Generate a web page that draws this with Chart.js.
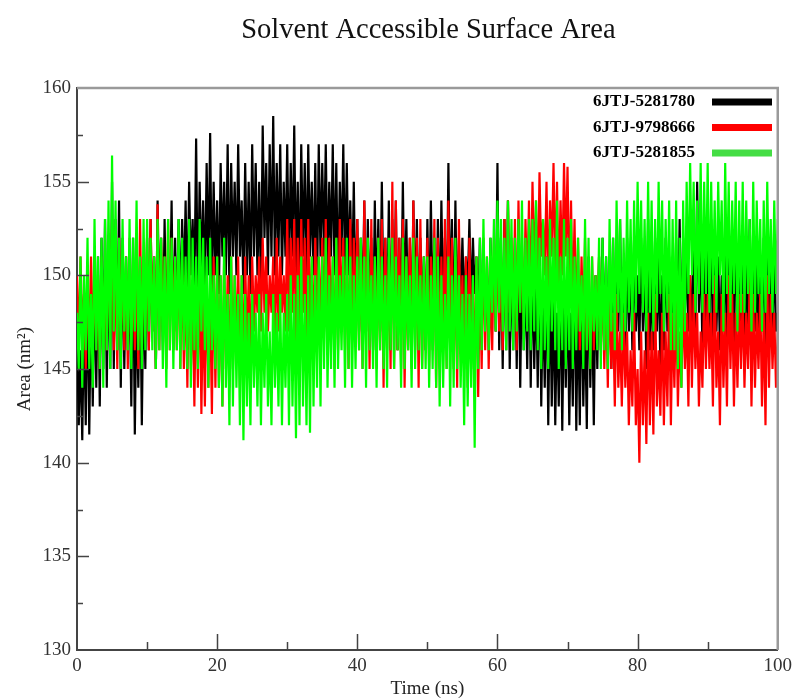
<!DOCTYPE html>
<html>
<head>
<meta charset="utf-8">
<title>Solvent Accessible Surface Area</title>
<script src="https://cdn.jsdelivr.net/npm/chart.js@4.4.1/dist/chart.umd.min.js"></script>
<style>
  html, body { margin: 0; padding: 0; background: #fff; }
  canvas { display: block; }
</style>
</head>
<body>
<canvas id="sasaChart" width="797" height="700"></canvas>
<script>
// time between samples (ns)
const STEP_NS = 0.25;

const seriesNames = ["6JTJ-5281780", "6JTJ-9798666", "6JTJ-5281855"];

// SASA values (nm^2), one every 0.25 ns from 0 to 100 ns (one row = 5 ns)
const sasa5281780 = [
  147, 142, 146, 141.2, 148, 142, 150, 141.5, 149, 143, 150, 144, 151, 143, 152, 145, 153, 144, 151, 145,
  155, 145, 153, 146, 154, 144, 152, 145, 151, 146, 150, 143, 152, 141.5, 149, 144, 151, 142, 150, 145,
  152, 146, 153, 147, 151, 145, 154, 148, 152, 146, 153, 147, 151, 148, 154, 146, 152, 147, 153, 148,
  153, 149, 154, 148, 155, 150, 153, 149, 157.3, 148, 155, 150, 154, 149, 156, 150, 157.6, 149, 155, 150,
  154, 149, 156, 151, 155, 150, 157, 149, 156, 151, 155, 150, 157, 151, 154, 149, 156, 150, 155, 149,
  157, 151, 156, 150, 155, 149, 158, 152, 156, 150, 157, 151, 158.5, 150, 156, 151, 157, 150, 155, 151,
  157, 150, 156, 151, 158, 150, 155, 149, 157, 151, 156, 150, 157, 151, 155, 150, 156, 149, 157, 151,
  156, 151, 157, 150, 155, 151, 157, 150, 156, 149, 155, 151, 157, 150, 156, 150, 154, 149, 155, 148,
  153, 147, 152, 148, 154, 147, 153, 148, 152, 146, 154, 148, 153, 147, 155, 148, 152, 147, 154, 146,
  153, 148, 154, 146, 152, 147, 155, 148, 153, 147, 152, 146, 154, 148, 153, 147, 152, 148, 151, 146,
  153, 147, 154, 148, 152, 146, 153, 147, 154, 148, 152, 147, 156, 148, 153, 146, 154, 147, 152, 148,
  152, 148, 151, 149, 153, 148, 152, 149, 151, 148, 152, 147, 151, 148, 150, 147, 152, 148, 151, 147,
  156, 146, 152, 145, 153, 146, 154, 145, 151, 146, 152, 145, 153, 144, 151, 146, 150, 145, 152, 144,
  151, 145, 150, 144, 152, 143, 149, 144, 151, 142, 150, 143, 149, 142, 148, 143, 150, 141.7, 149, 144,
  150, 142, 148, 143, 151, 141.7, 149, 142, 150, 143, 148, 141.8, 151, 144, 149, 142, 150, 145, 151, 146,
  152, 146, 151, 147, 150, 145, 152, 146, 151, 147, 153, 146, 150, 145, 152, 147, 151, 146, 152, 147,
  150, 146, 152, 147, 151, 145, 153, 146, 150, 146, 152, 147, 151, 145, 150, 146, 152, 147, 151, 146,
  151, 146, 152, 147, 153, 146, 152, 148, 151, 147, 150, 146, 153, 147, 155, 148, 152, 146, 151, 147,
  152, 147, 153, 146, 152, 147, 151, 146, 150, 147, 152, 146, 153, 147, 151, 146, 152, 148, 150, 147,
  152, 146, 151, 147, 153, 146, 152, 147, 151, 146, 150, 147, 152, 146, 153, 147, 151, 146, 152, 147,
  148
];

const sasa9798666 = [
  150, 146, 151, 147, 149, 145, 150, 146, 151, 147, 149, 146, 150, 145, 151, 147, 150, 146, 152, 147,
  153, 146, 151, 145, 152, 147, 150, 146, 151, 145, 152, 147, 150, 146, 151, 145, 153, 146, 151, 147,
  152, 146, 153, 147, 151, 145, 153.8, 146, 152, 147, 151, 145, 153, 146, 152, 147, 151, 146, 152, 145,
  151, 145, 150, 144, 151, 145, 149, 143, 150, 144, 151, 142.6, 149, 143, 150, 144, 149, 142.6, 151, 144,
  151, 144, 150, 143, 151, 145, 150, 144, 151, 145, 150, 146, 151, 144, 150, 145, 151, 146, 150, 145,
  151, 147, 150, 148, 151, 147, 152, 148, 151, 147, 150, 148, 151, 146, 152, 147, 151, 148, 150, 147,
  153, 147, 152, 148, 153, 146, 152, 147, 153, 148, 152, 146, 153, 147, 151, 146, 152, 148, 151, 147,
  152, 147, 153, 146, 152, 147, 151, 145, 152, 146, 153, 147, 152, 146, 151, 145, 153, 146, 152, 147,
  153, 146, 152, 145, 154, 147, 152, 145, 153, 146, 151, 145, 152, 146, 153, 144, 152, 146, 151, 145,
  155, 145, 154, 146, 152, 145, 153, 144, 151, 146, 152, 145, 154, 146, 152, 144, 153, 145, 151, 146,
  152, 145, 151, 146, 153, 144, 152, 145, 151, 146, 153, 145, 154, 146, 152, 145, 151, 144, 153, 146,
  150, 145, 151, 144, 152, 145, 150, 144, 151, 143.5, 150, 145, 152, 146, 151, 145, 150, 146, 152, 147,
  152, 147, 151, 146, 153, 147, 154, 148, 152, 147, 153, 146, 154, 148, 152, 147, 153, 149, 154, 148,
  155, 150, 154, 149, 155.5, 151, 153, 150, 155, 149, 154, 151, 156, 150, 155, 149, 154, 150, 156, 151,
  155.8, 149, 154, 148, 153, 147, 152, 146, 151, 147, 152, 146, 150, 145, 151, 146, 150, 147, 151, 146,
  150, 145, 149, 144, 150, 145, 148, 143, 149, 144, 147, 143, 148, 144, 147, 142, 146, 143, 148, 142,
  145, 140, 147, 142, 146, 141, 148, 142, 147, 141.5, 149, 143, 146, 142.5, 148, 142, 147, 143, 149, 142,
  148, 144, 149, 143, 147, 144, 149, 145, 148, 143, 150, 144, 149, 145, 148, 143, 147, 144, 149, 145,
  149, 145, 148, 143, 150, 144, 147, 142, 149, 144, 148, 143, 150, 145, 149, 143, 148, 144, 149, 145,
  149, 144, 148, 145, 150, 143, 149, 144, 148, 145, 149, 143, 148, 142, 150, 144, 149, 145, 148, 144,
  147
];

const sasa5281855 = [
  148, 145, 151, 144, 150, 146, 152, 145, 149, 144, 153, 146, 151, 145, 152, 144, 153, 146, 154, 145,
  156.4, 147, 154, 146, 152, 145, 153, 147, 151, 146, 153, 145, 152, 147, 154, 146, 151, 145, 153, 146,
  153, 147, 152, 146, 151, 145, 153, 146, 152, 145, 151, 144, 153, 146, 152, 145, 151, 146, 153, 145,
  152, 146, 151, 145, 153, 144, 152, 146, 151, 145, 153, 147, 152, 146, 151, 144, 152, 146, 150, 145,
  151, 144, 150, 143, 152, 144, 149, 142, 151, 143, 150, 144, 149, 142, 150, 141.2, 149, 143, 148, 142,
  149, 144, 148, 143, 149, 142, 148, 144, 149, 143, 147, 142, 149, 144, 148, 143, 149, 142, 148, 144,
  149, 142, 150, 143, 149, 141.3, 150, 142, 151, 143, 149, 142, 150, 141.6, 151, 143, 150, 144, 151, 143,
  151, 145, 152, 144, 150, 145, 151, 144, 152, 145, 150, 146, 151, 144, 152, 145, 151, 144, 150, 145,
  151, 146, 152, 145, 151, 144, 152, 146, 150, 145, 151, 144, 152, 146, 151, 145, 150, 144, 152, 146,
  152, 145, 151, 146, 150, 144, 152, 145, 151, 146, 150, 144, 152, 145, 151, 146, 150, 145, 151, 145,
  151, 144, 150, 145, 152, 144, 151, 143, 150, 144, 149, 145, 151, 143, 150, 144, 152, 145, 150, 144,
  149, 142, 150, 143, 149, 144, 150, 140.8, 151, 145, 152, 146, 153, 147, 151, 146, 152, 148, 153, 147,
  154, 148, 153, 147, 152, 146, 154, 147, 153, 146, 152, 147, 153, 148, 154, 146, 152, 147, 153, 146,
  153, 147, 154, 146, 152, 145, 153, 146, 151, 145, 153, 147, 152, 146, 154, 145, 151, 146, 153, 145,
  152, 146, 153, 145, 151, 146, 152, 147, 150, 145, 153, 146, 152, 145, 151, 147, 150, 146, 152, 145,
  152, 146, 151, 145, 153, 147, 152, 146, 154, 148, 153, 146, 152, 147, 154, 148, 153, 147, 154, 148,
  155, 149, 154, 148, 153, 147, 155, 148, 154, 147, 153, 148, 155, 149, 154, 147, 153, 148, 154, 146,
  153, 146, 154, 145, 152, 144, 154, 147, 155, 149, 156, 150, 155, 148, 154, 149, 156, 148, 155, 149,
  156, 148, 155, 149, 154, 148, 155, 150, 154, 147, 156, 149, 155, 148, 154, 149, 155, 147, 154, 148,
  155, 148, 154, 149, 153, 147, 155, 148, 154, 149, 153, 147, 154, 148, 155, 149, 153, 148, 154, 149,
  153
];

const xMinorTicks = [10, 30, 50, 70, 90];
const yMinorTicks = [132.5, 137.5, 142.5, 147.5, 152.5, 157.5];

const lineColors = ["#000000", "#ff0000", "#00ff00"];
const swatchColors = ["#000000", "#ff0000", "#44dd44"];
const serif = "'Liberation Serif', 'Times New Roman', serif";

function toPoints(values) {
  return values.map((v, i) => ({ x: i * STEP_NS, y: v }));
}

// frame, inward ticks, legend and title
const decorPlugin = {
  id: "decor",
  afterDatasetsDraw(chart) {
    const { ctx, chartArea: area, scales } = chart;
    ctx.save();

    // grey top/right frame
    ctx.strokeStyle = "#9a9a9a";
    ctx.lineWidth = 2.5;
    ctx.beginPath();
    ctx.moveTo(area.left, area.top);
    ctx.lineTo(area.right, area.top);
    ctx.lineTo(area.right, area.bottom);
    ctx.stroke();

    // inward ticks
    ctx.strokeStyle = "#444";
    ctx.lineWidth = 1.5;
    ctx.beginPath();
    scales.y.ticks.forEach(t => {
      if (t.value === scales.y.min || t.value === scales.y.max) return;
      const py = Math.round(scales.y.getPixelForValue(t.value)) + 0.5;
      ctx.moveTo(area.left, py);
      ctx.lineTo(area.left + 12, py);
    });
    yMinorTicks.forEach(v => {
      const py = Math.round(scales.y.getPixelForValue(v)) + 0.5;
      ctx.moveTo(area.left, py);
      ctx.lineTo(area.left + 6, py);
    });
    scales.x.ticks.forEach(t => {
      if (t.value === scales.x.min || t.value === scales.x.max) return;
      const px = Math.round(scales.x.getPixelForValue(t.value)) + 0.5;
      ctx.moveTo(px, area.bottom);
      ctx.lineTo(px, area.bottom - 16);
    });
    xMinorTicks.forEach(v => {
      const px = Math.round(scales.x.getPixelForValue(v)) + 0.5;
      ctx.moveTo(px, area.bottom);
      ctx.lineTo(px, area.bottom - 8);
    });
    ctx.stroke();

    // legend
    ctx.font = "bold 17px " + serif;
    ctx.textAlign = "right";
    ctx.textBaseline = "middle";
    chart.data.datasets.forEach((ds, i) => {
      const y = 102 + i * 25.5;
      ctx.fillStyle = "#000";
      ctx.fillText(ds.label, 695, y);
      ctx.fillStyle = swatchColors[i];
      ctx.fillRect(712, y - 3.5, 60, 7);
    });

    // title
    ctx.font = "28.5px " + serif;
    ctx.textAlign = "center";
    ctx.fillStyle = "#111";
    ctx.fillText("Solvent Accessible Surface Area", (area.left + area.right) / 2 + 1, 31);
    ctx.restore();
  }
};

new Chart(document.getElementById("sasaChart"), {
  type: "line",
  data: {
    datasets: [
      { label: seriesNames[0], data: toPoints(sasa5281780), borderColor: lineColors[0], order: 2 },
      { label: seriesNames[1], data: toPoints(sasa9798666), borderColor: lineColors[1], order: 1 },
      { label: seriesNames[2], data: toPoints(sasa5281855), borderColor: lineColors[2], order: 0 }
    ]
  },
  options: {
    responsive: false,
    animation: false,
    events: [],
    devicePixelRatio: 1,
    layout: { padding: { top: 88, right: 15, left: 0, bottom: 0 } },
    elements: {
      line: { borderWidth: 2.2, tension: 0 },
      point: { radius: 0 }
    },
    plugins: {
      legend: { display: false },
      title: { display: false },
      tooltip: { enabled: false }
    },
    scales: {
      x: {
        type: "linear",
        min: 0,
        max: 100,
        ticks: { stepSize: 20, padding: 5, color: "#333", font: { family: serif, size: 19 } },
        grid: { display: false, drawTicks: false },
        border: { display: true, color: "#444", width: 2 },
        title: { display: true, text: "Time (ns)", color: "#222", padding: { top: 0, bottom: 0 }, font: { family: serif, size: 19 } },
        afterFit: s => { s.height = 50; }
      },
      y: {
        min: 130,
        max: 160,
        ticks: { stepSize: 5, padding: 6, color: "#333", font: { family: serif, size: 19 } },
        grid: { display: false, drawTicks: false },
        border: { display: true, color: "#444", width: 2 },
        title: { display: true, text: "Area (nm²)", color: "#222", padding: { top: 14, bottom: 0 }, font: { family: serif, size: 19 } },
        afterFit: s => { s.width = 77; }
      }
    }
  },
  plugins: [decorPlugin]
});
</script>
</body>
</html>
